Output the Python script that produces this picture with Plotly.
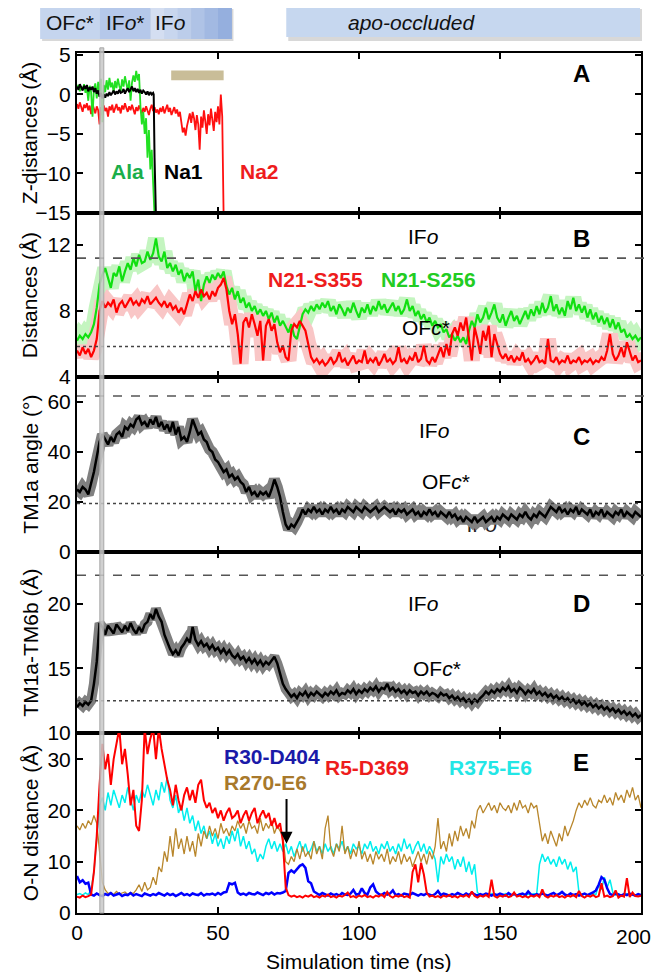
import plotly.graph_objects as go

FONT = "Liberation Sans, Arial, sans-serif"

# ---------------- data ----------------
TIME_TICKS = [0, 50, 100, 150, 200]
TIME_LABELS = ["0", "50", "100", "150", "200"]
T1 = list(range(0, 201))  # 1-ns sampling for panels B-E

# Panel A: Z-distances (Å)
ala_t = [0, 0.5, 1, 1.5, 2, 2.5, 3, 3.5, 4, 4.5, 5, 5.5, 6, 6.5, 7, 7.5, 8, 8.5, 9, 9.5,
         10, 10.5, 11, 11.5, 12, 12.5, 13, 13.5, 14, 14.5, 15, 15.5, 16, 16.5, 17, 17.5, 18, 18.5, 19, 19.5,
         20, 20.5, 21, 21.5, 22, 22.5, 23, 23.5, 24, 24.5, 25, 25.5, 26, 26.5, 27, 27.5]
ala_z = [0.8, 1.2, 0.4, 1.0, 0.6, 1.3, 0.2, 0.9, -0.8, 1.1, 0.3, -2.8, 0.7, 1.4, -0.5, 1.6, 0.4, 2.0, -3.5, 1.2,
         0.3, 1.8, 0.6, 2.1, 0.9, 1.5, 0.2, 1.7, 0.8, 2.0, 1.1, 0.4, 1.9, 1.0, 2.3, 1.2, 0.5, 1.8, -0.8, 1.5,
         2.4, 1.6, 3.0, 1.8, 2.6, -1.5, -3.8, -2.2, -5.0, -3.0, -8.0, -4.5, -9.5, -7.0, -11.0, -15.5]

na1_t = [0, 0.5, 1, 1.5, 2, 2.5, 3, 3.5, 4, 4.5, 5, 5.5, 6, 6.5, 7, 7.5, 8, 8.5, 9, 9.5,
         10, 10.5, 11, 11.5, 12, 12.5, 13, 13.5, 14, 14.5, 15, 15.5, 16, 16.5, 17, 17.5, 18, 18.5, 19, 19.5,
         20, 20.5, 21, 21.5, 22, 22.5, 23, 23.5, 24, 24.5, 25, 25.5, 26, 26.5, 27, 27.2, 27.5, 28.0]
na1_z = [1.0, 0.6, 1.3, 0.8, 0.5, 1.1, 0.7, 1.2, 0.4, 0.9, 0.6, 1.0, 0.3, 0.8, 0.1, 0.5, -0.3, 0.2, -0.5, 0.0,
         -0.4, 0.1, -0.2, 0.3, -0.1, 0.2, 0.5, 0.0, 0.4, 0.1, 0.6, 0.2, 0.3, 0.7, 0.1, 0.5, 0.8, 0.3, 0.6, 1.0,
         0.4, 0.8, 0.3, 0.7, 0.2, 0.6, 0.1, 0.5, 0.3, 0.0, 0.4, -0.1, 0.3, 0.0, 0.2, 0.0, -8.0, -15.6]

na2_t = [i * 0.5 for i in range(0, 104)] + [52.0]
na2_z = [-1.2, -1.8, -1.0, -1.6, -2.2, -1.3, -1.7, -1.1, -2.0, -1.4,
         -2.5, -1.2, -1.8, -2.4, -1.5, -2.0, -3.8, -1.6, -2.6, -1.4,
         -2.1, -1.7, -2.8, -1.5, -2.0, -1.3, -2.3, -1.8, -1.2, -2.0,
         -1.6, -2.4, -1.4, -1.9, -1.1, -1.7, -2.2, -1.5, -2.0, -1.3,
         -1.8, -2.5, -1.6, -2.1, -1.4, -1.9, -2.4, -1.7, -2.2, -1.5,
         -2.0, -2.6, -1.8, -1.3, -2.1, -1.6, -2.3, -1.9, -2.5, -1.7,
         -2.2, -1.5, -2.4, -1.8, -1.3, -2.2, -1.7, -2.6, -2.0, -1.6,
         -2.4, -1.9, -2.8, -2.2, -3.5, -4.8, -4.2, -5.2, -4.0, -3.2,
         -2.4, -3.6, -2.2, -3.0, -4.5, -2.6, -3.8, -7.0, -2.8, -4.2,
         -2.0, -3.4, -5.0, -2.5, -3.9, -1.8, -3.1, -4.6, -2.2, -3.5,
         -1.5, -3.8, 0.0, -2.8, -15.6]

# Panel B: distances (Å)
n21_s256 = [6.2, 6.5, 6.3, 6.6, 6.4, 6.7, 7.2, 8.2, 9.6, 10.2,
            10.6, 10.0, 9.4, 10.3, 10.1, 10.7, 9.8, 10.4, 10.9, 10.5,
            11.2, 10.7, 11.4, 10.9, 11.0, 11.6, 11.1, 11.5, 12.4, 11.3,
            11.0, 11.6, 10.6, 10.9, 10.4, 10.8, 10.2, 10.5, 9.8, 10.3,
            10.0, 10.4, 9.2, 9.9, 8.6, 9.6, 10.1, 9.7, 10.2, 9.9,
            10.3, 10.0, 10.4, 9.5, 9.0, 9.4, 8.7, 9.2, 8.5, 8.8,
            8.2, 8.5, 8.0, 8.3, 7.8, 8.1, 7.7, 8.0, 7.5, 7.9,
            7.3, 7.7, 7.1, 7.4, 7.0, 6.7, 7.2, 6.5, 6.3, 7.0,
            7.8, 8.1, 7.9, 8.3, 8.0, 8.4, 8.1, 8.5, 8.2, 8.6,
            8.0, 8.3, 7.8, 8.4, 8.1, 7.7, 8.2, 7.9, 8.5, 8.0,
            7.6, 8.2, 7.9, 8.4, 7.8, 8.3, 8.0, 8.6, 8.1, 8.4,
            7.9, 8.2, 8.5, 8.0, 8.3, 7.8, 8.1, 8.7, 8.0, 8.3,
            7.7, 8.0, 7.5, 7.8, 7.3, 7.6, 7.1, 7.4, 7.0, 7.2,
            6.7, 6.9, 6.4, 6.6, 6.2, 6.5, 6.1, 6.4, 6.0, 6.8,
            7.4, 7.0, 7.8, 7.3, 7.6, 8.2, 7.5, 7.9, 8.4, 7.6,
            7.3, 7.8, 7.1, 7.6, 8.0, 7.4, 7.7, 7.2, 7.6, 8.0,
            7.5, 8.1, 7.7, 8.3, 7.8, 8.5, 7.9, 8.2, 8.9, 8.0,
            8.4, 7.8, 8.2, 7.7, 8.6, 8.1, 8.8, 8.0, 8.4, 7.9,
            8.3, 7.6, 8.1, 7.5, 7.9, 7.3, 7.7, 7.2, 7.6, 7.0,
            7.5, 6.9, 7.3, 6.7, 6.9, 6.4, 6.6, 6.3, 6.5, 6.2,
            6.4]
n21_s355 = [5.6, 5.3, 5.8, 5.4, 5.7, 5.2, 5.6, 6.3, 8.0, 8.6,
            8.2, 8.5, 8.3, 8.7, 7.9, 8.4, 8.6, 8.2, 8.5, 8.8,
            8.4, 8.6, 8.3, 8.7, 8.5, 8.9, 8.4, 8.6, 8.8, 8.5,
            8.3, 8.6, 8.2, 8.5, 8.1, 8.3, 7.9, 8.2, 7.8, 8.4,
            9.0, 8.6, 9.2, 8.8, 9.3, 8.9, 9.1, 8.7, 9.2, 8.9,
            9.4, 9.6, 10.0, 9.3, 8.0, 7.2, 7.8, 6.6, 4.8, 7.3,
            7.6, 7.0, 7.8, 7.2, 6.5, 7.4, 5.0, 7.1, 7.5, 6.8,
            7.2, 6.1, 5.5, 5.9, 5.2, 5.0, 6.8, 7.2, 7.0, 7.4,
            7.1, 6.8, 6.0, 5.2, 4.9, 5.1, 4.8, 5.0, 4.7, 4.9,
            5.2, 4.8, 5.0, 5.5, 4.9, 5.1, 4.7, 5.0, 5.3, 4.8,
            5.0, 4.9, 5.6, 4.8, 5.1, 4.9, 5.2, 4.7, 5.0, 5.4,
            4.9, 5.1, 4.8, 5.0, 5.8, 4.9, 5.1, 4.8, 5.2, 5.0,
            5.5, 4.9, 5.1, 5.9, 5.0, 4.8, 5.2, 4.9, 5.4, 5.8,
            5.2, 6.0, 5.3, 6.6, 7.0, 6.5, 7.3, 6.8, 7.6, 6.4,
            5.0, 7.0, 6.3, 5.4, 6.8, 6.2, 7.1, 5.2, 6.6, 6.0,
            5.4, 5.1, 5.4, 5.0, 5.3, 4.9, 5.2, 5.0, 5.5, 4.9,
            5.1, 4.8, 5.0, 5.3, 4.9, 5.0, 4.8, 6.3, 5.0, 4.9,
            5.2, 4.8, 5.0, 4.9, 5.3, 4.8, 5.0, 4.9, 5.2, 4.8,
            5.0, 4.9, 5.1, 4.8, 5.0, 4.9, 5.2, 5.0, 5.6, 6.6,
            5.4, 5.0, 5.3, 5.8, 5.2, 6.1, 5.5, 5.0, 5.3, 4.9,
            5.0]

# Panel C: TM1a angle (deg)
tm1a_angle = [25, 24, 26, 25, 23, 27, 32, 38, 44, 47,
              45, 43, 46, 44, 47, 48, 46, 50, 49, 51,
              50, 53, 54, 51, 52, 50, 53, 51, 54, 50,
              52, 49, 51, 48, 52, 47, 50, 45, 46, 44,
              48, 53, 50, 47, 48, 45, 44, 41, 40, 37,
              36, 34, 32, 33, 30, 31, 29, 30, 28, 27,
              24, 26, 23, 24, 22, 24, 23, 24, 22, 25,
              29, 26, 22, 16, 11, 9, 11, 10, 12, 14,
              17, 15, 17, 16, 18, 16, 17, 15, 17, 16,
              18, 16, 17, 15, 17, 16, 18, 17, 16, 18,
              17, 16, 18, 17, 16, 17, 18, 16, 17, 18,
              17, 16, 17, 15, 17, 16, 17, 15, 16, 17,
              15, 16, 14, 16, 15, 17, 15, 16, 14, 16,
              15, 14, 16, 14, 15, 13, 14, 12, 14, 13,
              12, 14, 12, 13, 14, 12, 13, 14, 12, 14,
              13, 15, 14, 13, 15, 14, 13, 15, 14, 16,
              14, 13, 15, 14, 16, 15, 14, 16, 18, 17,
              16, 18, 16, 17, 15, 17, 16, 18, 15, 17,
              16, 15, 17, 14, 16, 15, 17, 14, 16, 15,
              14, 16, 15, 17, 14, 16, 15, 14, 16, 15,
              14]

# Panel D: TM1a-TM6b distance (Å)
tm1a_tm6b = [12.0, 12.3, 12.1, 12.4, 12.2, 12.5, 13.8, 15.5, 18.5, 18.2,
             17.6, 18.3, 18.0, 17.7, 18.4, 18.1, 17.8, 18.3, 17.9, 18.5,
             18.0, 17.7, 18.2, 17.8, 18.4, 18.6, 19.2, 18.8, 19.6, 19.0,
             18.6, 17.6, 17.0, 16.5, 16.1, 16.4, 16.0, 16.6, 16.9, 17.3,
             17.0, 18.2, 17.2, 16.8, 17.1, 16.7, 16.9, 16.5, 16.8, 16.4,
             16.6, 16.2, 16.5, 16.1, 16.4, 16.0, 15.8, 16.1, 15.7, 15.9,
             15.5, 15.8, 15.4, 15.7, 15.3, 15.6, 15.2, 15.5, 15.3, 15.6,
             15.9, 15.4, 14.6, 13.8, 13.4, 13.1, 12.8, 13.0, 12.7, 13.1,
             12.9, 13.2, 12.8, 13.1, 12.9, 13.2, 13.0, 12.8, 13.1, 12.9,
             13.2, 13.0, 13.3, 12.9, 13.1, 13.0, 13.3, 13.1, 13.4, 13.0,
             13.3, 13.1, 13.4, 13.2, 13.5, 13.3, 13.6, 13.2, 13.5, 13.4,
             13.8, 13.3, 13.5, 13.2, 13.4, 13.1, 13.3, 13.0, 13.3, 13.1,
             13.2, 12.9, 13.2, 13.0, 13.2, 12.9, 13.1, 13.0, 12.8, 13.1,
             12.9, 13.0, 12.7, 12.9, 12.6, 12.8, 12.5, 12.7, 12.4, 12.6,
             12.3, 12.6, 12.4, 12.7, 12.9, 13.2, 13.0, 13.3, 13.1, 13.4,
             13.2, 13.5, 13.3, 13.6, 13.2, 13.4, 13.1, 13.5, 13.3, 13.0,
             13.3, 13.1, 13.4, 13.0, 13.2, 12.9, 13.1, 12.8, 13.0, 12.7,
             12.9, 12.6, 12.8, 12.5, 12.7, 12.4, 12.6, 12.3, 12.5, 12.2,
             12.4, 12.1, 12.3, 12.0, 12.2, 11.9, 12.1, 11.8, 12.0, 11.7,
             11.9, 11.6, 11.8, 11.5, 11.7, 11.4, 11.6, 11.3, 11.5, 11.2,
             11.4]

# Panel E: O-N distances (Å)
r30_d404 = [7.2, 6.0, 6.4, 5.7, 5.9, 3.6, 3.4, 3.8, 3.5, 3.3,
            3.7, 3.5, 3.9, 3.4, 3.6, 3.8, 3.3, 3.6, 3.5, 3.9,
            3.4, 3.7, 3.5, 3.3, 3.8, 3.6, 3.4, 3.7, 3.5, 3.9,
            3.6, 3.4, 3.8, 3.5, 3.7, 3.3, 3.6, 3.9, 3.5, 3.7,
            3.4, 3.8, 3.6, 3.5, 3.9, 3.4, 3.7, 3.6, 3.8, 3.5,
            3.9, 3.6, 4.0, 4.1, 5.8, 5.6, 5.9, 4.0, 3.6, 3.8,
            3.5, 3.9, 3.7, 3.6, 4.0, 3.8, 3.5, 3.9, 3.7, 4.0,
            3.6, 3.9, 3.8, 4.0, 4.3, 7.8, 8.3, 7.9, 8.6, 9.2,
            9.5, 8.8, 6.2, 5.8, 4.2, 3.8, 3.5, 3.9, 3.6, 3.4,
            3.8, 3.5, 3.7, 3.4, 3.9, 3.6, 3.5, 3.8, 4.5, 3.6,
            3.7, 4.8, 3.9, 3.6, 5.0, 5.6, 4.2, 3.7, 3.5, 3.9,
            3.6, 3.8, 4.4, 3.5, 3.7, 3.4, 3.8, 3.6, 3.5, 3.9,
            3.6, 3.4, 3.7, 3.5, 3.8, 3.6, 3.4, 3.7, 4.3, 3.5,
            3.8, 3.6, 3.4, 3.7, 3.5, 3.9, 3.6, 3.4, 3.8, 3.5,
            4.0, 3.6, 3.4, 3.7, 3.5, 3.8, 3.6, 3.4, 3.7, 3.5,
            3.8, 3.6, 3.4, 3.9, 3.5, 3.7, 3.4, 3.6, 3.8, 3.5,
            4.2, 3.6, 3.4, 3.7, 3.5, 3.8, 3.6, 3.4, 3.7, 3.9,
            3.5, 3.7, 4.1, 3.6, 3.4, 3.8, 3.5, 3.7, 3.4, 3.6,
            3.8, 3.5, 3.7, 4.0, 4.4, 5.5, 7.0, 6.5, 4.8, 3.7,
            3.5, 3.8, 3.6, 3.4, 3.7, 3.5, 3.8, 3.6, 3.4, 3.7,
            3.5]
r5_d369 = [3.2, 3.0, 3.4, 3.1, 3.3, 3.6, 8.0, 15.0, 25.0, 33.0,
           28.0, 31.0, 25.0, 30.0, 33.0, 36.0, 29.0, 32.0, 27.0, 21.0,
           24.0, 17.0, 16.0, 22.0, 36.0, 31.0, 34.0, 36.0, 30.0, 36.0,
           32.0, 29.0, 26.0, 24.0, 21.0, 25.0, 22.0, 20.0, 23.0, 24.5,
           22.0, 24.0, 21.5, 25.0, 26.0, 22.0, 20.5, 21.5, 19.5, 20.5,
           18.5, 20.0, 18.0, 19.5, 20.5, 18.5, 19.0, 20.0, 17.5, 19.0,
           20.0, 18.0, 19.5, 20.5, 17.5, 19.0, 20.0, 18.5, 19.5, 17.0,
           18.5, 16.5, 17.5, 14.0, 5.0, 3.5, 3.2, 3.4, 3.1, 3.3,
           3.0, 3.4, 3.2, 3.5, 3.1, 3.3, 3.0, 3.4, 3.2, 3.6,
           3.1, 3.3, 3.0, 3.4, 3.2, 3.5, 4.0, 3.1, 3.3, 3.0,
           3.4, 3.2, 3.5, 3.1, 3.3, 3.0, 3.4, 3.2, 3.6, 3.1,
           4.1, 3.3, 3.0, 3.4, 3.2, 3.5, 3.1, 3.3, 3.0, 8.0,
           9.5, 6.0, 9.8, 7.5, 4.0, 3.2, 3.4, 3.1, 3.3, 3.0,
           3.4, 3.2, 3.5, 3.1, 3.3, 3.0, 3.4, 3.2, 3.5, 3.1,
           4.2, 3.3, 3.0, 3.4, 3.2, 3.5, 3.1, 6.5, 3.3, 3.0,
           3.4, 3.2, 3.5, 3.1, 3.3, 4.0, 3.2, 3.4, 3.1, 3.3,
           3.0, 3.4, 3.2, 3.5, 3.1, 4.6, 3.3, 3.0, 3.4, 3.2,
           3.5, 3.1, 3.3, 3.0, 3.4, 3.2, 3.5, 3.1, 4.3, 3.3,
           3.0, 3.4, 3.2, 3.5, 3.1, 3.3, 5.8, 3.2, 3.4, 3.1,
           3.3, 4.4, 3.0, 3.4, 3.2, 6.8, 3.1, 4.0, 3.3, 3.2,
           3.4]
r375_e6 = [3.6, 3.8, 3.5, 3.9, 3.6, 4.5, 8.0, 14.0, 21.0, 22.5,
           20.0, 23.5, 21.0, 24.0, 22.0, 20.5, 23.0, 21.5, 24.5, 22.0,
           20.0, 23.0, 21.5, 24.0, 22.5, 25.0, 23.0, 21.0, 24.0, 22.0,
           25.5, 23.5, 26.5, 22.0, 20.5, 23.0, 19.5, 21.0, 18.0, 20.5,
           17.5, 19.0, 16.0, 18.0, 15.5, 17.0, 14.5, 16.0, 13.5, 15.5,
           13.0, 14.5, 12.5, 15.0, 13.5, 16.0, 14.0, 16.5, 13.0, 15.0,
           12.5, 14.0, 11.5, 12.5, 10.0, 11.5, 10.5, 13.0, 14.5, 12.5,
           14.0, 12.0, 13.5, 12.0, 13.5, 11.5, 13.0, 11.0, 12.5, 14.0,
           12.0, 13.5, 11.5, 12.5, 14.0, 12.0, 13.0, 11.5, 13.5, 12.0,
           13.0, 11.5, 13.5, 12.5, 14.0, 12.0, 13.0, 11.5, 13.5, 12.5,
           13.0, 11.5, 13.5, 12.5, 14.0, 12.0, 13.0, 11.5, 13.5, 12.5,
           14.0, 12.0, 13.0, 11.5, 13.5, 12.0, 14.5, 12.5, 13.5, 11.5,
           13.0, 14.0, 12.0, 13.5, 11.5, 13.0, 12.0, 10.5, 6.0, 11.0,
           9.5, 11.5, 10.0, 11.0, 8.5, 10.5, 9.0, 11.0, 8.0, 10.0,
           7.5, 9.5, 4.0, 3.6, 3.4, 3.7, 3.5, 3.8, 3.6, 3.4,
           3.7, 3.5, 3.8, 3.6, 3.4, 3.7, 3.5, 3.8, 3.6, 3.4,
           3.7, 3.5, 3.8, 3.6, 9.5, 11.5, 10.0, 11.0, 9.5, 10.5,
           9.0, 11.0, 9.5, 10.5, 8.5, 10.0, 8.0, 9.0, 4.0, 3.5,
           3.7, 3.4, 3.6, 3.8, 3.6, 5.5, 4.5, 7.0, 5.0, 6.5,
           4.0, 3.5, 3.7, 3.4, 3.6, 3.8, 3.5, 3.7, 3.4, 3.6,
           3.5]
r270_e6 = [17.0, 16.2, 17.5, 16.5, 18.0, 17.2, 19.0, 17.5, 12.0, 6.0,
           4.5, 3.8, 4.0, 3.6, 4.2, 3.7, 3.9, 4.1, 3.6, 4.0,
           3.8, 4.5, 5.5, 4.2, 6.0, 4.5, 5.0, 7.0, 5.5, 9.0,
           8.0, 12.0, 10.0, 15.0, 11.0, 16.5, 12.5, 14.5, 11.5, 15.0,
           12.0, 14.0, 11.0, 15.5, 13.0, 16.0, 14.5, 17.0, 15.0, 16.5,
           14.5, 17.5, 15.5, 16.5, 15.0, 17.0, 16.0, 18.0, 16.5, 17.5,
           15.5, 18.0, 16.5, 17.0, 15.5, 18.5, 16.0, 17.5, 16.5, 18.0,
           15.5, 17.0, 16.0, 15.0, 10.0, 9.5, 11.0, 10.0, 12.5, 10.5,
           13.0, 11.0, 12.0, 10.5, 14.0, 11.5, 13.0, 10.5, 16.5, 19.0,
           12.5, 11.0, 13.5, 12.0, 17.0, 11.5, 13.0, 10.5, 12.5, 11.0,
           14.0, 10.5, 12.0, 10.0, 11.5, 9.5, 12.0, 10.5, 11.5, 10.0,
           12.5, 9.5, 11.0, 10.0, 12.0, 9.5, 11.5, 10.0, 11.0, 9.0,
           10.5, 12.0, 10.0, 11.5, 9.5, 12.0, 10.5, 13.0, 18.5, 12.5,
           14.0, 12.0, 15.5, 13.0, 16.0, 14.0, 17.0, 15.0, 16.5, 14.5,
           18.0, 16.5, 20.0, 21.0, 19.5, 20.5, 21.5, 20.0, 21.0, 19.5,
           21.5, 20.5, 20.0, 21.0, 19.5, 21.5, 20.0, 22.0, 20.5, 21.0,
           19.5, 21.5, 20.5, 21.0, 17.0, 14.0, 15.5, 13.5, 16.0, 14.5,
           13.0, 15.5, 14.0, 17.0, 15.0, 16.5, 18.0, 20.0, 21.5, 20.5,
           22.0, 21.0, 22.5, 21.0, 20.5, 22.0, 21.5, 23.0, 21.5, 22.5,
           21.0, 23.5, 22.0, 23.0, 21.5, 24.0, 22.5, 24.5, 22.0, 23.0,
           20.5]

# reference levels
ref_B = {"IFo": 11.2, "OFc": 5.84}
ref_C = {"IFo": 62.4, "OFc": 19.4}
ref_D = {"IFo": 22.2, "OFc": 12.5}

# ---------------- figure ----------------
fig = go.Figure()

# Panel A
fig.add_trace(go.Scatter(x=na2_t, y=na2_z, mode="lines", line=dict(color="#ff1010", width=1.8),
                         xaxis="x", yaxis="y", showlegend=False))
fig.add_trace(go.Scatter(x=ala_t, y=ala_z, mode="lines", line=dict(color="#22e022", width=1.8),
                         xaxis="x", yaxis="y", showlegend=False))
fig.add_trace(go.Scatter(x=na1_t, y=na1_z, mode="lines", line=dict(color="#000000", width=2),
                         xaxis="x", yaxis="y", showlegend=False))

# Panel B
fig.add_trace(go.Scatter(x=T1, y=n21_s256, mode="lines", line=dict(color="#c4f5c0", width=16),
                         xaxis="x2", yaxis="y2", showlegend=False))
fig.add_trace(go.Scatter(x=T1, y=n21_s355, mode="lines", line=dict(color="#f9c6c6", width=16),
                         xaxis="x2", yaxis="y2", showlegend=False))
fig.add_trace(go.Scatter(x=T1, y=n21_s256, mode="lines", line=dict(color="#10e010", width=2.2),
                         xaxis="x2", yaxis="y2", showlegend=False))
fig.add_trace(go.Scatter(x=T1, y=n21_s355, mode="lines", line=dict(color="#ff0000", width=2.2),
                         xaxis="x2", yaxis="y2", showlegend=False))

# Panel C (partly hidden label first, lines over it)
fig.add_trace(go.Scatter(x=[143.5], y=[10.0], mode="text", text=["IF<i>o</i>"],
                         textfont=dict(family=FONT, size=21, color="#222"),
                         xaxis="x3", yaxis="y3", showlegend=False))
fig.add_trace(go.Scatter(x=T1, y=tm1a_angle, mode="lines", line=dict(color="#808080", width=11),
                         xaxis="x3", yaxis="y3", showlegend=False))
fig.add_trace(go.Scatter(x=T1, y=tm1a_angle, mode="lines", line=dict(color="#000000", width=2.5),
                         xaxis="x3", yaxis="y3", showlegend=False))

# Panel D
fig.add_trace(go.Scatter(x=T1, y=tm1a_tm6b, mode="lines", line=dict(color="#808080", width=10),
                         xaxis="x4", yaxis="y4", showlegend=False))
fig.add_trace(go.Scatter(x=T1, y=tm1a_tm6b, mode="lines", line=dict(color="#000000", width=2.5),
                         xaxis="x4", yaxis="y4", showlegend=False))

# Panel E
fig.add_trace(go.Scatter(x=T1, y=r375_e6, mode="lines", line=dict(color="#00eeee", width=1.5),
                         xaxis="x5", yaxis="y5", showlegend=False))
fig.add_trace(go.Scatter(x=T1, y=r270_e6, mode="lines", line=dict(color="#b8862b", width=1.3),
                         xaxis="x5", yaxis="y5", showlegend=False))
fig.add_trace(go.Scatter(x=T1, y=r30_d404, mode="lines", line=dict(color="#0000ff", width=2.5),
                         xaxis="x5", yaxis="y5", showlegend=False))
fig.add_trace(go.Scatter(x=T1, y=r5_d369, mode="lines", line=dict(color="#ff0000", width=2),
                         xaxis="x5", yaxis="y5", showlegend=False))

# ---------------- axes ----------------
doms = [[0.8140, 1.0], [0.6233, 0.8140], [0.4198, 0.6233], [0.2093, 0.4198], [0.0, 0.2093]]
yranges = [[-15, 5.25], [4, 13.94], [0, 70], [10, 24], [0, 35.1]]
yticks = [[-15, -10, -5, 0, 5], [4, 8, 12], [0, 20, 40, 60], [10, 15, 20], [0, 10, 20, 30]]

tickfont = dict(family=FONT, size=21, color="black")
common = dict(ticks="inside", ticklen=6, tickwidth=2, tickcolor="black", showline=True,
              linewidth=2, linecolor="black", mirror="ticks", showgrid=False, zeroline=False,
              tickfont=tickfont)
layout_axes = {}
for i in range(5):
    xn = "xaxis" if i == 0 else "xaxis%d" % (i + 1)
    yn = "yaxis" if i == 0 else "yaxis%d" % (i + 1)
    ya = "y" if i == 0 else "y%d" % (i + 1)
    xa = "x" if i == 0 else "x%d" % (i + 1)
    # last label ("200") is drawn as an annotation so it stays inside the page
    layout_axes[xn] = dict(domain=[0, 1], range=[0, 200], tickvals=TIME_TICKS,
                           ticktext=TIME_LABELS[:-1] + [""],
                           showticklabels=(i == 4), anchor=ya, **common)
    layout_axes[yn] = dict(domain=doms[i], range=yranges[i], tickvals=yticks[i],
                           anchor=xa, **common)

fig.update_layout(**layout_axes)

# ---------------- shapes ----------------
shapes = []
for yref, lv in (("y2", ref_B), ("y3", ref_C), ("y4", ref_D)):
    shapes.append(dict(type="line", xref="paper", yref=yref, x0=0, x1=1.019, y0=lv["IFo"], y1=lv["IFo"],
                       line=dict(color="#555555", width=1.6, dash="dash")))
    shapes.append(dict(type="line", xref="paper", yref=yref, x0=0, x1=1.0, y0=lv["OFc"], y1=lv["OFc"],
                       line=dict(color="#444444", width=1.5, dash="dot")))
# tan bar panel A
shapes.append(dict(type="rect", xref="x", yref="y", x0=33.4, x1=52, y0=1.8, y1=3.05,
                   fillcolor="#c9bd98", line=dict(width=0)))
# vertical grey bar across panels
shapes.append(dict(type="rect", xref="x", yref="paper", x0=8.1, x1=9.5, y0=0, y1=1.006,
                   fillcolor="rgba(200,200,200,0.85)", line=dict(color="#a8a8a8", width=1), layer="above"))


def px2x(p):
    return (p - 77) / 566.0


def px2y(p):
    return 1 + (53 - p) / 860.0


for x0, x1 in ((40, 232), (287, 642)):
    shapes.append(dict(type="rect", xref="paper", yref="paper", x0=px2x(x0 + 2), x1=px2x(x1 + 2),
                       y0=px2y(41), y1=px2y(9), fillcolor="#d8d8d8", line=dict(width=0)))
shapes.append(dict(type="rect", xref="paper", yref="paper", x0=px2x(40), x1=px2x(100),
                   y0=px2y(39), y1=px2y(6), fillcolor="#c5d5ee", line=dict(width=0)))
shapes.append(dict(type="rect", xref="paper", yref="paper", x0=px2x(100), x1=px2x(151),
                   y0=px2y(39), y1=px2y(6), fillcolor="#b5c8ea", line=dict(width=0)))
grad = ["#d4def1", "#c8d6ee", "#bccdea", "#afc3e6", "#a2b9e2", "#95afde"]
step = (232 - 151) / len(grad)
for k, c in enumerate(grad):
    shapes.append(dict(type="rect", xref="paper", yref="paper", x0=px2x(151 + k * step),
                       x1=px2x(151 + (k + 1) * step + 0.5), y0=px2y(39), y1=px2y(6),
                       fillcolor=c, line=dict(width=0)))
shapes.append(dict(type="rect", xref="paper", yref="paper", x0=px2x(287), x1=px2x(642),
                   y0=px2y(37), y1=px2y(7), fillcolor="#c6d7ef", line=dict(width=0)))
fig.update_layout(shapes=shapes)

# ---------------- annotations ----------------
ann = []


def txt(x, y, s, xref, yref, size=21, color="black", bold=False, xanchor="center",
        yanchor="middle", **kw):
    if bold:
        s = "<b>" + s + "</b>"
    d = dict(x=x, y=y, xref=xref, yref=yref, text=s, showarrow=False, xanchor=xanchor,
             yanchor=yanchor, font=dict(family=FONT, size=size, color=color))
    d.update(kw)
    ann.append(d)


for (xr, yr, yv, s) in (("x", "y", 2.7, "A"), ("x2", "y2", 12.4, "B"), ("x3", "y3", 46, "C"),
                        ("x4", "y4", 20, "D"), ("x5", "y5", 29.3, "E")):
    txt(178.8, yv, s, xr, yr, size=24, bold=True)

txt(17.8, -9.7, "Ala", "x", "y", color="#1aae4a", bold=True)
txt(37.6, -9.7, "Na1", "x", "y", color="black", bold=True)
txt(64.7, -9.7, "Na2", "x", "y", color="#ee1c1c", bold=True)

txt(123, 12.5, "IF<i>o</i>", "x2", "y2")
txt(84.5, 9.9, "N21-S355", "x2", "y2", color="#ee1c1c", bold=True)
txt(124.7, 9.9, "N21-S256", "x2", "y2", color="#22cc22", bold=True)
txt(123.7, 7.0, "OF<i>c</i>*", "x2", "y2")

txt(126.6, 48.7, "IF<i>o</i>", "x3", "y3")
txt(130.8, 28.3, "OF<i>c</i>*", "x3", "y3")

txt(123, 20, "IF<i>o</i>", "x4", "y4")
txt(127.5, 15, "OF<i>c</i>*", "x4", "y4")

txt(69, 30.5, "R30-D404", "x5", "y5", color="#1a1aa8", bold=True)
txt(67, 25.4, "R270-E6", "x5", "y5", color="#a8792c", bold=True)
txt(102.8, 28.3, "R5-D369", "x5", "y5", color="#ee1c1c", bold=True)
txt(146.5, 28.3, "R375-E6", "x5", "y5", color="#22e6e6", bold=True)
ann.append(dict(x=74.3, y=13.5, ax=74.3, ay=22.5, xref="x5", yref="y5", axref="x5", ayref="y5",
                text="", showarrow=True, arrowhead=2, arrowsize=1.2, arrowwidth=2, arrowcolor="black"))

# "200" tick label, kept inside the page edge
txt(px2x(655), (913 - 937) / 860.0, TIME_LABELS[-1], "paper", "paper", size=21, xanchor="right")

ytitles = ["Z-distances (Å)", "Distances (Å)", "TM1a angle (°)", "TM1a-TM6b (Å)", "O-N distance (Å)"]
for i, t in enumerate(ytitles):
    txt(px2x(30), (doms[i][0] + doms[i][1]) / 2, t, "paper", "paper", size=21, textangle=-90)

txt(0.5, (913 - 961) / 860.0, "Simulation time (ns)", "paper", "paper", size=21)

txt(px2x(70), px2y(22), "OF<i>c</i>*", "paper", "paper", size=21, color="#111")
txt(px2x(125.5), px2y(22), "IF<i>o</i>*", "paper", "paper", size=21, color="#111")
txt(px2x(153), px2y(22), "IF<i>o</i>", "paper", "paper", size=21, color="#111", xanchor="left")
txt(px2x(347), px2y(22), "<i>apo-occluded</i>", "paper", "paper", size=21, color="#111", xanchor="left")

fig.update_layout(annotations=ann)

# The page body adds an 8-px margin on every side; a 647x964 figure fills the 663x980
# window exactly and puts the plot at the reference pixel positions.
fig.update_layout(width=647, height=964, margin=dict(l=69, r=12, t=45, b=59),
                  paper_bgcolor="white", plot_bgcolor="white", showlegend=False,
                  font=dict(family=FONT, color="black"))

fig.write_html("out.html", config={"displayModeBar": False})
